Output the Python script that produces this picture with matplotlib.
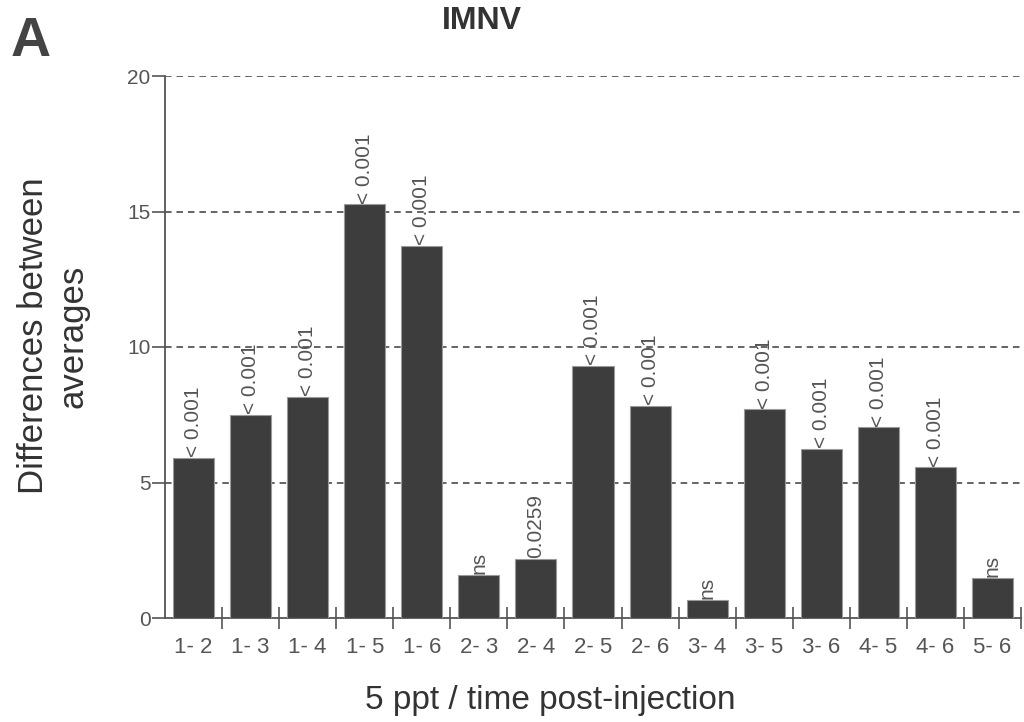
import matplotlib
matplotlib.use("Agg")
import matplotlib.pyplot as plt
import numpy as np

# comparaisons par paires (temps post-injection), différences de moyennes
pairs = ["1- 2", "1- 3", "1- 4", "1- 5", "1- 6", "2- 3", "2- 4", "2- 5",
         "2- 6", "3- 4", "3- 5", "3- 6", "4- 5", "4- 6", "5- 6"]
diffs = [5.92, 7.49, 8.16, 15.27, 13.73, 1.60, 2.19, 9.30,
         7.83, 0.68, 7.70, 6.24, 7.04, 5.57, 1.48]
pvals = ["< 0.001", "< 0.001", "< 0.001", "< 0.001", "< 0.001", "ns", "0.0259",
         "< 0.001", "< 0.001", "ns", "< 0.001", "< 0.001", "< 0.001", "< 0.001", "ns"]
yticks = [0, 5, 10, 15, 20]

W, H = 1024, 722
plt.rcParams["font.family"] = ["Liberation Sans", "DejaVu Sans"]
GREY = "#555555"

fig = plt.figure(figsize=(W / 100, H / 100), dpi=100)
ax = fig.add_axes([165 / W, 1 - 618 / H, (1021 - 165) / W, (618 - 76) / H])

x = np.arange(len(pairs))
ax.bar(x, diffs, width=0.72, color="#3d3d3d", edgecolor="#9a9a9a",
       linewidth=0.8, zorder=3)

for yv in yticks[1:]:
    ax.axhline(yv, color="#3a3a3a", lw=1.1, ls=(0, (4.3, 3.2)), zorder=1)

for xi, v, p in zip(x, diffs, pvals):
    ax.text(xi, v + 0.02, p, rotation=90, ha="center", va="bottom",
            fontsize=15, color=GREY, zorder=4)

ax.set_xlim(-0.5, len(pairs) - 0.5)
ax.set_ylim(0, 20)

ax.set_xticks(x)
ax.set_xticklabels(pairs)
ax.set_xticks(x + 0.5, minor=True)
ax.tick_params(axis="x", which="major", length=0, pad=14, labelsize=16,
               labelcolor=GREY)
ax.tick_params(axis="x", which="minor", direction="inout", length=16,
               width=1.2, color=GREY)

ax.set_yticks(yticks)
ax.tick_params(axis="y", length=9.5, width=1.2, color=GREY, labelsize=15,
               labelcolor=GREY, pad=1)

ax.spines[["top", "right"]].set_visible(False)
for s in ("left", "bottom"):
    ax.spines[s].set_color(GREY)
    ax.spines[s].set_linewidth(1.3)

fig.text(482 / W, 1 - 21 / H, "IMNV", ha="center", va="center",
         fontsize=23, fontweight="bold", color="#333333")
fig.text(31 / W, 1 - 42 / H, "A", ha="center", va="center",
         fontsize=40, fontweight="bold", color="#444444")
fig.text(550 / W, 1 - 700 / H, "5 ppt / time post-injection", ha="center",
         va="center", fontsize=24, color="#333333")
fig.text(53 / W, 1 - 336 / H, "Differences between\naverages", ha="center",
         va="center", rotation=90, fontsize=25, color="#333333",
         multialignment="center", linespacing=1.25)

fig.savefig("out.png", dpi=100)
